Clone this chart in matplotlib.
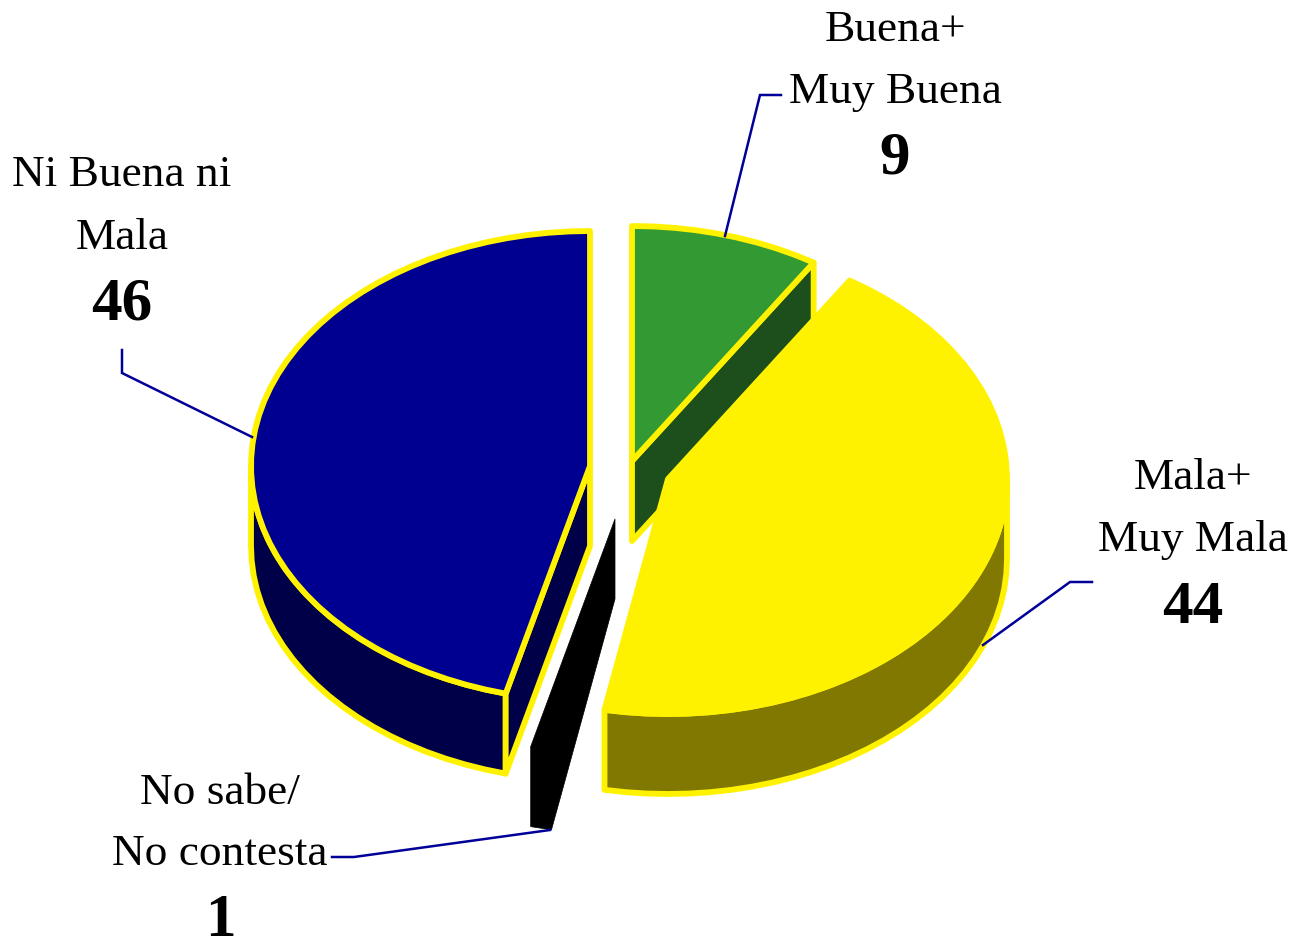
import numpy as np
import matplotlib
matplotlib.use("Agg")
import matplotlib.pyplot as plt
from matplotlib.patches import Polygon

categories = ["Buena+\nMuy Buena", "Mala+\nMuy Mala", "No sabe/\nNo contesta", "Ni Buena ni\nMala"]
values = [9, 44, 1, 46]

plt.rcParams['font.family'] = ['Liberation Serif', 'DejaVu Serif']

W, H = 1295, 940
fig = plt.figure(figsize=(W / 100, H / 100), dpi=100)
ax = fig.add_axes([0, 0, 1, 1])
ax.set_xlim(0, W)
ax.set_ylim(H, 0)
ax.axis('off')

RX, RY, DEPTH = 339, 235, 80
EDGE = '#FFF200'
LW = 4.2
centers = [(632, 461), (668, 479), (615, 519), (590, 466)]
top_cols = ['#339933', '#FFF200', '#000000', '#000090']
side_cols = ['#1C4F1C', '#807800', '#000000', '#000048']

cum = np.concatenate([[0], np.cumsum(values)]) / sum(values) * 360.0


def arc(c, a0, a1, dz=0):
    n = max(2, int(abs(a1 - a0) / 3.5) + 1)
    t = np.radians(np.linspace(a0, a1, n))
    return np.column_stack([c[0] + RX * np.sin(t), c[1] - RY * np.cos(t) + dz])


def poly(pts, fc, ec=None, z=1):
    ax.add_patch(Polygon(pts, closed=True, facecolor=fc,
                         edgecolor=ec if ec else fc,
                         linewidth=LW if ec else 0.5,
                         joinstyle='round', zorder=z))


# Green slice
c = centers[0]; a0, a1 = cum[0], cum[1]
e = arc(c, a1, a1)[0]
poly([c, e, (e[0], e[1] + DEPTH), (c[0], c[1] + DEPTH)], side_cols[0], EDGE, 1)
poly(np.vstack([[c], arc(c, a0, a1)]), top_cols[0], EDGE, 2)

# Black slice
c = centers[2]; a0, a1 = cum[2], cum[3]
s = arc(c, a0, a1)
poly(np.vstack([[c], [(c[0], c[1] + DEPTH)], s + [0, DEPTH], s[-1:]]), '#000000', None, 3)

# Blue slice
c = centers[3]; a0, a1 = cum[3], cum[4]
e = arc(c, a0, a0)[0]
lower = arc(c, a0, 270)
poly(np.vstack([lower, (lower + [0, DEPTH])[::-1]]), side_cols[3], EDGE, 3)
poly([c, e, (e[0], e[1] + DEPTH), (c[0], c[1] + DEPTH)], side_cols[3], EDGE, 3)
poly(np.vstack([[c], arc(c, a0, a1)]), top_cols[3], EDGE, 4)

# Yellow slice
c = centers[1]; a0, a1 = cum[1], cum[2]
lower = arc(c, 90, a1)
poly(np.vstack([lower, (lower + [0, DEPTH])[::-1]]), side_cols[1], EDGE, 5)
poly(np.vstack([[c], arc(c, a0, a1)]), top_cols[1], EDGE, 6)

# Leader lines
leaders = [
    [(725, 236), (760, 95), (781, 95)],
    [(1092, 582), (1070, 582), (983, 645)],
    [(550, 830), (354, 857), (332, 857)],
    [(122, 350), (122, 373), (252, 437)],
]
for pts in leaders:
    xs, ys = zip(*pts)
    ax.plot(xs, ys, color='#000099', lw=1.8, zorder=7, solid_joinstyle='miter')

# Labels
label_x = [895, 1193, 220, 122]
label_y = [(41, 103, 174), (489, 551, 623), (804, 865, 936), (186, 249, 320)]
for name, val, x, ys in zip(categories, values, label_x, label_y):
    l1, l2 = name.split("\n")
    ax.text(x, ys[0], l1, fontsize=32.7, ha='center', va='baseline', color='black', zorder=8)
    ax.text(x, ys[1], l2, fontsize=32.7, ha='center', va='baseline', color='black', zorder=8)
    ax.text(x, ys[2], str(val), fontsize=44, fontweight='bold', ha='center', va='baseline',
            color='black', zorder=8)

fig.savefig('out.png', dpi=100, facecolor='white')
